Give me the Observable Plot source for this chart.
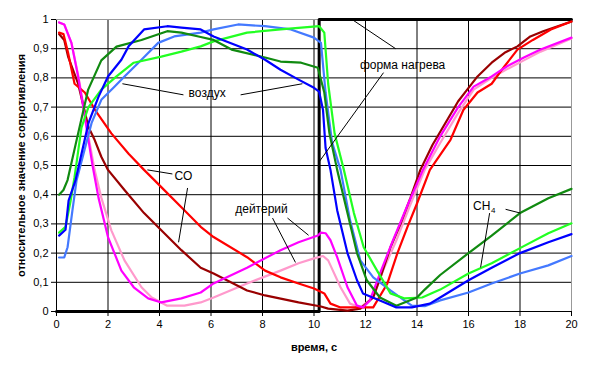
<!DOCTYPE html>
<html>
<head>
<meta charset="utf-8">
<script src="https://cdn.jsdelivr.net/npm/d3@7"></script>
<script src="https://cdn.jsdelivr.net/npm/@observablehq/plot@0.6"></script>
<style>
  html, body { margin: 0; padding: 0; background: #fff; }
  #chart svg { display: block; }
</style>
</head>
<body>
<div id="chart"></div>
<script>
// ---- tick labels ----
const xTicks = [0, 2, 4, 6, 8, 10, 12, 14, 16, 18, 20];
const yTicks = [0, 0.1, 0.2, 0.3, 0.4, 0.5, 0.6, 0.7, 0.8, 0.9, 1];

// ---- series (time, s / relative resistance) ----
const seriesNames = ["pink", "darkred", "red", "magenta", "cornflower", "lime", "darkgreen", "blue"];
const seriesColors = ["#ff99cc", "#990000", "#ff0000", "#ff00ff", "#4479ff", "#22ff22", "#108a10", "#0000ff"];

const xPink = [0.1, 0.3, 0.58, 0.84, 1.04, 1.24, 1.48, 1.74, 2.13, 2.64, 3.3, 3.7, 4.3, 4.97, 5.6, 6.1, 7.4, 8.7, 9.4, 10.0, 10.35, 10.55, 10.64, 11.03, 11.4, 11.8, 12.3, 12.68, 13.2, 13.7, 14.3, 14.9, 15.6, 16.2, 16.9, 17.5, 18.15, 18.8, 20];
const yPink = [0.99, 0.983, 0.92, 0.81, 0.71, 0.60, 0.485, 0.39, 0.278, 0.175, 0.083, 0.048, 0.02, 0.02, 0.031, 0.048, 0.096, 0.14, 0.165, 0.182, 0.19, 0.175, 0.158, 0.083, 0.027, 0.014, 0.048, 0.14, 0.244, 0.357, 0.485, 0.577, 0.68, 0.76, 0.80, 0.83, 0.86, 0.89, 0.935];

const xDarkRed = [0.1, 0.3, 0.45, 0.84, 1.24, 1.48, 1.74, 2.0, 2.64, 3.4, 4.07, 4.85, 5.6, 6.1, 7.4, 8.1, 9.4, 10.27, 10.55, 11.3, 11.8, 12.3, 12.58, 12.97, 13.36, 13.75, 14.13, 14.6, 15.0, 15.6, 15.95, 16.35, 16.9, 17.4, 17.9, 18.4, 18.9, 20];
const yDarkRed = [0.95, 0.93, 0.873, 0.78, 0.632, 0.588, 0.53, 0.485, 0.416, 0.337, 0.278, 0.21, 0.15, 0.13, 0.072, 0.055, 0.031, 0.017, 0.01, 0.003, 0.01, 0.048, 0.117, 0.22, 0.30, 0.39, 0.485, 0.57, 0.63, 0.72, 0.76, 0.805, 0.852, 0.886, 0.908, 0.942, 0.96, 0.993];

const xRed = [0.1, 0.27, 0.45, 0.7, 1.1, 1.5, 2.13, 2.8, 3.4, 3.8, 4.07, 4.85, 5.6, 6.1, 7.4, 8.1, 8.7, 9.4, 10.0, 10.4, 10.64, 11.03, 12.3, 12.85, 13.24, 13.63, 14.0, 14.5, 15.3, 15.8, 16.35, 16.9, 17.4, 17.9, 18.5, 19.2, 20];
const yRed = [0.955, 0.95, 0.886, 0.78, 0.75, 0.69, 0.61, 0.54, 0.485, 0.45, 0.426, 0.357, 0.29, 0.255, 0.186, 0.14, 0.117, 0.096, 0.079, 0.062, 0.027, 0.014, 0.014, 0.096, 0.2, 0.29, 0.37, 0.485, 0.588, 0.69, 0.75, 0.78, 0.84, 0.897, 0.93, 0.966, 0.993];

const xMagenta = [0.1, 0.3, 0.58, 0.84, 1.04, 1.24, 1.4, 1.63, 2.0, 2.52, 3.0, 3.56, 4.07, 4.85, 5.6, 6.1, 7.4, 8.7, 9.4, 10.15, 10.27, 10.45, 10.64, 10.9, 11.3, 11.67, 11.9, 12.17, 12.56, 13.07, 13.6, 14.23, 14.9, 15.6, 16.2, 16.9, 17.5, 18.15, 18.8, 20];
const yMagenta = [0.99, 0.983, 0.92, 0.805, 0.70, 0.588, 0.50, 0.39, 0.255, 0.14, 0.083, 0.045, 0.031, 0.045, 0.065, 0.096, 0.15, 0.21, 0.237, 0.26, 0.27, 0.268, 0.244, 0.186, 0.083, 0.02, 0.014, 0.038, 0.13, 0.244, 0.357, 0.485, 0.60, 0.70, 0.77, 0.805, 0.84, 0.87, 0.897, 0.938];

const xCorn = [0.1, 0.3, 0.43, 0.62, 0.78, 1.36, 1.74, 2.25, 2.64, 3.3, 3.95, 4.57, 5.6, 6.1, 7.05, 8.1, 9.1, 10.0, 10.27, 10.45, 10.7, 11.03, 11.4, 11.8, 12.3, 12.97, 13.48, 13.8, 14.3, 14.9, 16.0, 16.9, 18.0, 19.1, 20];
const yCorn = [0.185, 0.185, 0.22, 0.347, 0.45, 0.645, 0.725, 0.77, 0.805, 0.862, 0.92, 0.942, 0.955, 0.966, 0.983, 0.977, 0.966, 0.938, 0.92, 0.75, 0.58, 0.485, 0.313, 0.175, 0.117, 0.072, 0.04, 0.02, 0.018, 0.038, 0.065, 0.096, 0.13, 0.158, 0.19];

const xLime = [0.1, 0.35, 0.55, 0.7, 0.97, 1.24, 1.74, 2.33, 3.0, 4.07, 4.85, 5.6, 6.1, 7.4, 8.7, 10.2, 10.4, 10.55, 10.8, 11.16, 11.55, 11.93, 12.45, 12.97, 13.5, 14.2, 14.9, 16.0, 16.9, 18.0, 19.1, 20];
const yLime = [0.27, 0.29, 0.38, 0.46, 0.63, 0.70, 0.76, 0.805, 0.852, 0.873, 0.89, 0.908, 0.925, 0.955, 0.966, 0.977, 0.955, 0.78, 0.61, 0.485, 0.337, 0.22, 0.14, 0.062, 0.045, 0.048, 0.075, 0.13, 0.165, 0.217, 0.268, 0.302];

const xDarkGreen = [0.1, 0.27, 0.43, 0.84, 1.23, 1.74, 2.33, 3.3, 4.3, 4.85, 5.6, 6.1, 6.8, 8.1, 8.7, 9.5, 10.15, 10.4, 10.6, 10.9, 11.3, 11.67, 12.05, 12.56, 13.2, 14.0, 14.3, 14.9, 16.0, 16.9, 18.0, 19.1, 20];
const yDarkGreen = [0.40, 0.416, 0.45, 0.61, 0.76, 0.86, 0.907, 0.93, 0.96, 0.955, 0.94, 0.93, 0.897, 0.87, 0.856, 0.852, 0.835, 0.75, 0.61, 0.485, 0.337, 0.2, 0.107, 0.048, 0.02, 0.048, 0.075, 0.125, 0.2, 0.26, 0.337, 0.388, 0.42];

const xBlue = [0.1, 0.35, 0.47, 0.74, 1.24, 1.63, 2.0, 2.52, 2.8, 3.4, 4.3, 4.85, 5.6, 6.1, 7.4, 8.1, 8.7, 9.4, 10.0, 10.2, 10.35, 10.45, 10.64, 10.9, 11.3, 11.67, 11.9, 12.56, 13.2, 13.8, 14.5, 14.9, 16.0, 16.9, 18.0, 19.1, 20];
const yBlue = [0.26, 0.28, 0.38, 0.45, 0.645, 0.735, 0.805, 0.862, 0.908, 0.966, 0.977, 0.972, 0.966, 0.942, 0.897, 0.862, 0.828, 0.794, 0.766, 0.753, 0.69, 0.56, 0.485, 0.347, 0.2, 0.107, 0.062, 0.038, 0.014, 0.014, 0.027, 0.048, 0.107, 0.15, 0.2, 0.237, 0.265];

// heating profile ("форма нагрева")
const heatX = [0, 10.2, 10.2, 20];
const heatY = [0, 0, 1, 1];

// ---- annotations ----
const noteText = ["воздух", "CO", "дейтерий", "форма нагрева"];
const noteX = [5.85, 4.93, 7.96, 13.44];
const noteY = [0.749, 0.464, 0.35, 0.845];
const chText = ["CH", "4"];
const chX = [16.85, 16.85];
const chY = [0.361, 0.361];

const leadX1 = [2.56, 7.15, 3.53, 5.09, 8.97, 8.39, 11.53, 12.7, 17.44, 16.82];
const leadY1 = [0.78, 0.742, 0.485, 0.423, 0.32, 0.32, 0.997, 0.818, 0.35, 0.337];
const leadX2 = [4.93, 9.55, 4.5, 4.74, 9.79, 9.28, 13.17, 10.17, 18.02, 16.47];
const leadY2 = [0.742, 0.78, 0.471, 0.237, 0.261, 0.168, 0.9, 0.509, 0.337, 0.151];

// ---- build tables ----
const seriesX = [xPink, xDarkRed, xRed, xMagenta, xCorn, xLime, xDarkGreen, xBlue];
const seriesY = [yPink, yDarkRed, yRed, yMagenta, yCorn, yLime, yDarkGreen, yBlue];
const toRows = (xs, ys) => xs.map((x, i) => ({x, y: ys[i]}));
const heatRows = toRows(heatX, heatY);
const notes = noteText.map((t, i) => ({t, x: noteX[i], y: noteY[i]}));
const leads = leadX1.map((x1, i) => ({x1, y1: leadY1[i], x2: leadX2[i], y2: leadY2[i]}));

const fmt = d => d === 0 ? "0" : d === 1 ? "1" : d.toFixed(1).replace(".", ",");

const lineMarks = seriesNames.map((name, k) =>
  Plot.line(toRows(seriesX[k], seriesY[k]), {x: "x", y: "y", stroke: seriesColors[k], strokeWidth: 2.2})
);

const chart = Plot.plot({
  width: 589,
  height: 366,
  marginLeft: 56,
  marginRight: 18,
  marginTop: 19,
  marginBottom: 55,
  x: {domain: [0, 20]},
  y: {domain: [0, 1]},
  style: {fontFamily: "'Liberation Sans', Arial, sans-serif", fontSize: "11px", color: "black", background: "white"},
  marks: [
    Plot.gridX(xTicks.filter(d => d !== 20), {stroke: "black", strokeOpacity: 1, strokeWidth: 1}),
    Plot.gridY(yTicks.filter(d => d !== 1), {stroke: "black", strokeOpacity: 1, strokeWidth: 1}),
    Plot.ruleY([1], {stroke: "#999", strokeWidth: 1}),
    Plot.ruleX([20], {stroke: "#999", strokeWidth: 1}),
    Plot.axisX({ticks: xTicks, tickFormat: d => String(d), tickSize: 5, tickPadding: 4, label: null, fontSize: 11}),
    Plot.axisY({ticks: yTicks, tickFormat: fmt, tickSize: 5, tickPadding: 3, label: null, fontSize: 11}),
    Plot.line(heatRows, {x: "x", y: "y", stroke: "black", strokeWidth: 3}),
    ...lineMarks,
    Plot.link(leads, {x1: "x1", y1: "y1", x2: "x2", y2: "y2", stroke: "black", strokeWidth: 1}),
    Plot.text(notes, {x: "x", y: "y", text: "t", fontSize: 12, fill: "black", textAnchor: "middle", lineAnchor: "middle"}),
    Plot.text([chText[0]], {x: () => chX[0], y: () => chY[0], text: d => d, fontSize: 12, fill: "black", textAnchor: "end", lineAnchor: "middle"}),
    Plot.text([chText[1]], {x: () => chX[1], y: () => chY[1], text: d => d, fontSize: 8, fill: "black", textAnchor: "start", lineAnchor: "middle", dx: 0.5, dy: 4}),
    Plot.text(["относительное значение сопротивления"], {frameAnchor: "left", dx: -35, rotate: -90, fontWeight: "bold", fontSize: 11, fill: "black", textAnchor: "middle", lineAnchor: "middle"}),
    Plot.text(["время, с"], {frameAnchor: "bottom", dy: 36, fontWeight: "bold", fontSize: 11, fill: "black", textAnchor: "middle", lineAnchor: "middle"})
  ]
});
document.getElementById("chart").appendChild(chart);
</script>
</body>
</html>
